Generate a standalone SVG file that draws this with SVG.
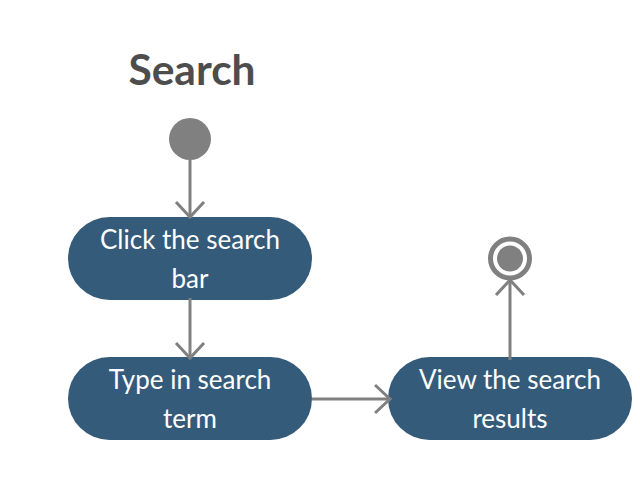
<svg xmlns="http://www.w3.org/2000/svg" width="640" height="484" viewBox="0 0 640 484">
<style>
.node{fill:#355b7b;}
.lbl{font-family:Lato,"Liberation Sans",sans-serif;font-size:26px;fill:#ffffff;text-anchor:middle;}
.edge{stroke:#808080;stroke-width:3;fill:none;}
.title{font-family:Lato,"Liberation Sans",sans-serif;font-size:42.5px;font-weight:bold;fill:#4d4d4d;text-anchor:middle;}
</style>
<defs>
<marker id="arr" markerUnits="userSpaceOnUse" viewBox="-16 -16 20 32" refX="0" refY="0" markerWidth="20" markerHeight="32" orient="auto">
<path d="M-15,-14 L0,0 L-15,14" fill="none" stroke="#808080" stroke-width="3"/>
</marker>
</defs>
<rect width="640" height="484" fill="#ffffff"/>
<text class="title" x="192" y="85">Search</text>
<g id="start"><circle cx="190" cy="139" r="21" fill="#808080"/></g>
<g id="end">
<circle cx="510" cy="258.5" r="19.5" fill="#ffffff" stroke="#808080" stroke-width="5"/>
<circle cx="510" cy="258.5" r="13" fill="#808080"/>
</g>
<g id="n1"><rect class="node" x="68" y="217" width="244" height="83" rx="41.5"/>
<text class="lbl" x="190" y="249">Click the search</text><text class="lbl" x="190" y="288">bar</text></g>
<g id="n2"><rect class="node" x="68" y="357" width="244" height="83" rx="41.5"/>
<text class="lbl" x="190" y="389">Type in search</text><text class="lbl" x="190" y="428">term</text></g>
<g id="n3"><rect class="node" x="388" y="357" width="244" height="83" rx="41.5"/>
<text class="lbl" x="510" y="389">View the search</text><text class="lbl" x="510" y="428">results</text></g>
<g id="edges">
<path class="edge" d="M190,160 L190,217" marker-end="url(#arr)"/>
<path class="edge" d="M190,298 L190,358" marker-end="url(#arr)"/>
<path class="edge" d="M312,399 L390,399" marker-end="url(#arr)"/>
<path class="edge" d="M510,360 L510,280" marker-end="url(#arr)"/>
</g>
</svg>
